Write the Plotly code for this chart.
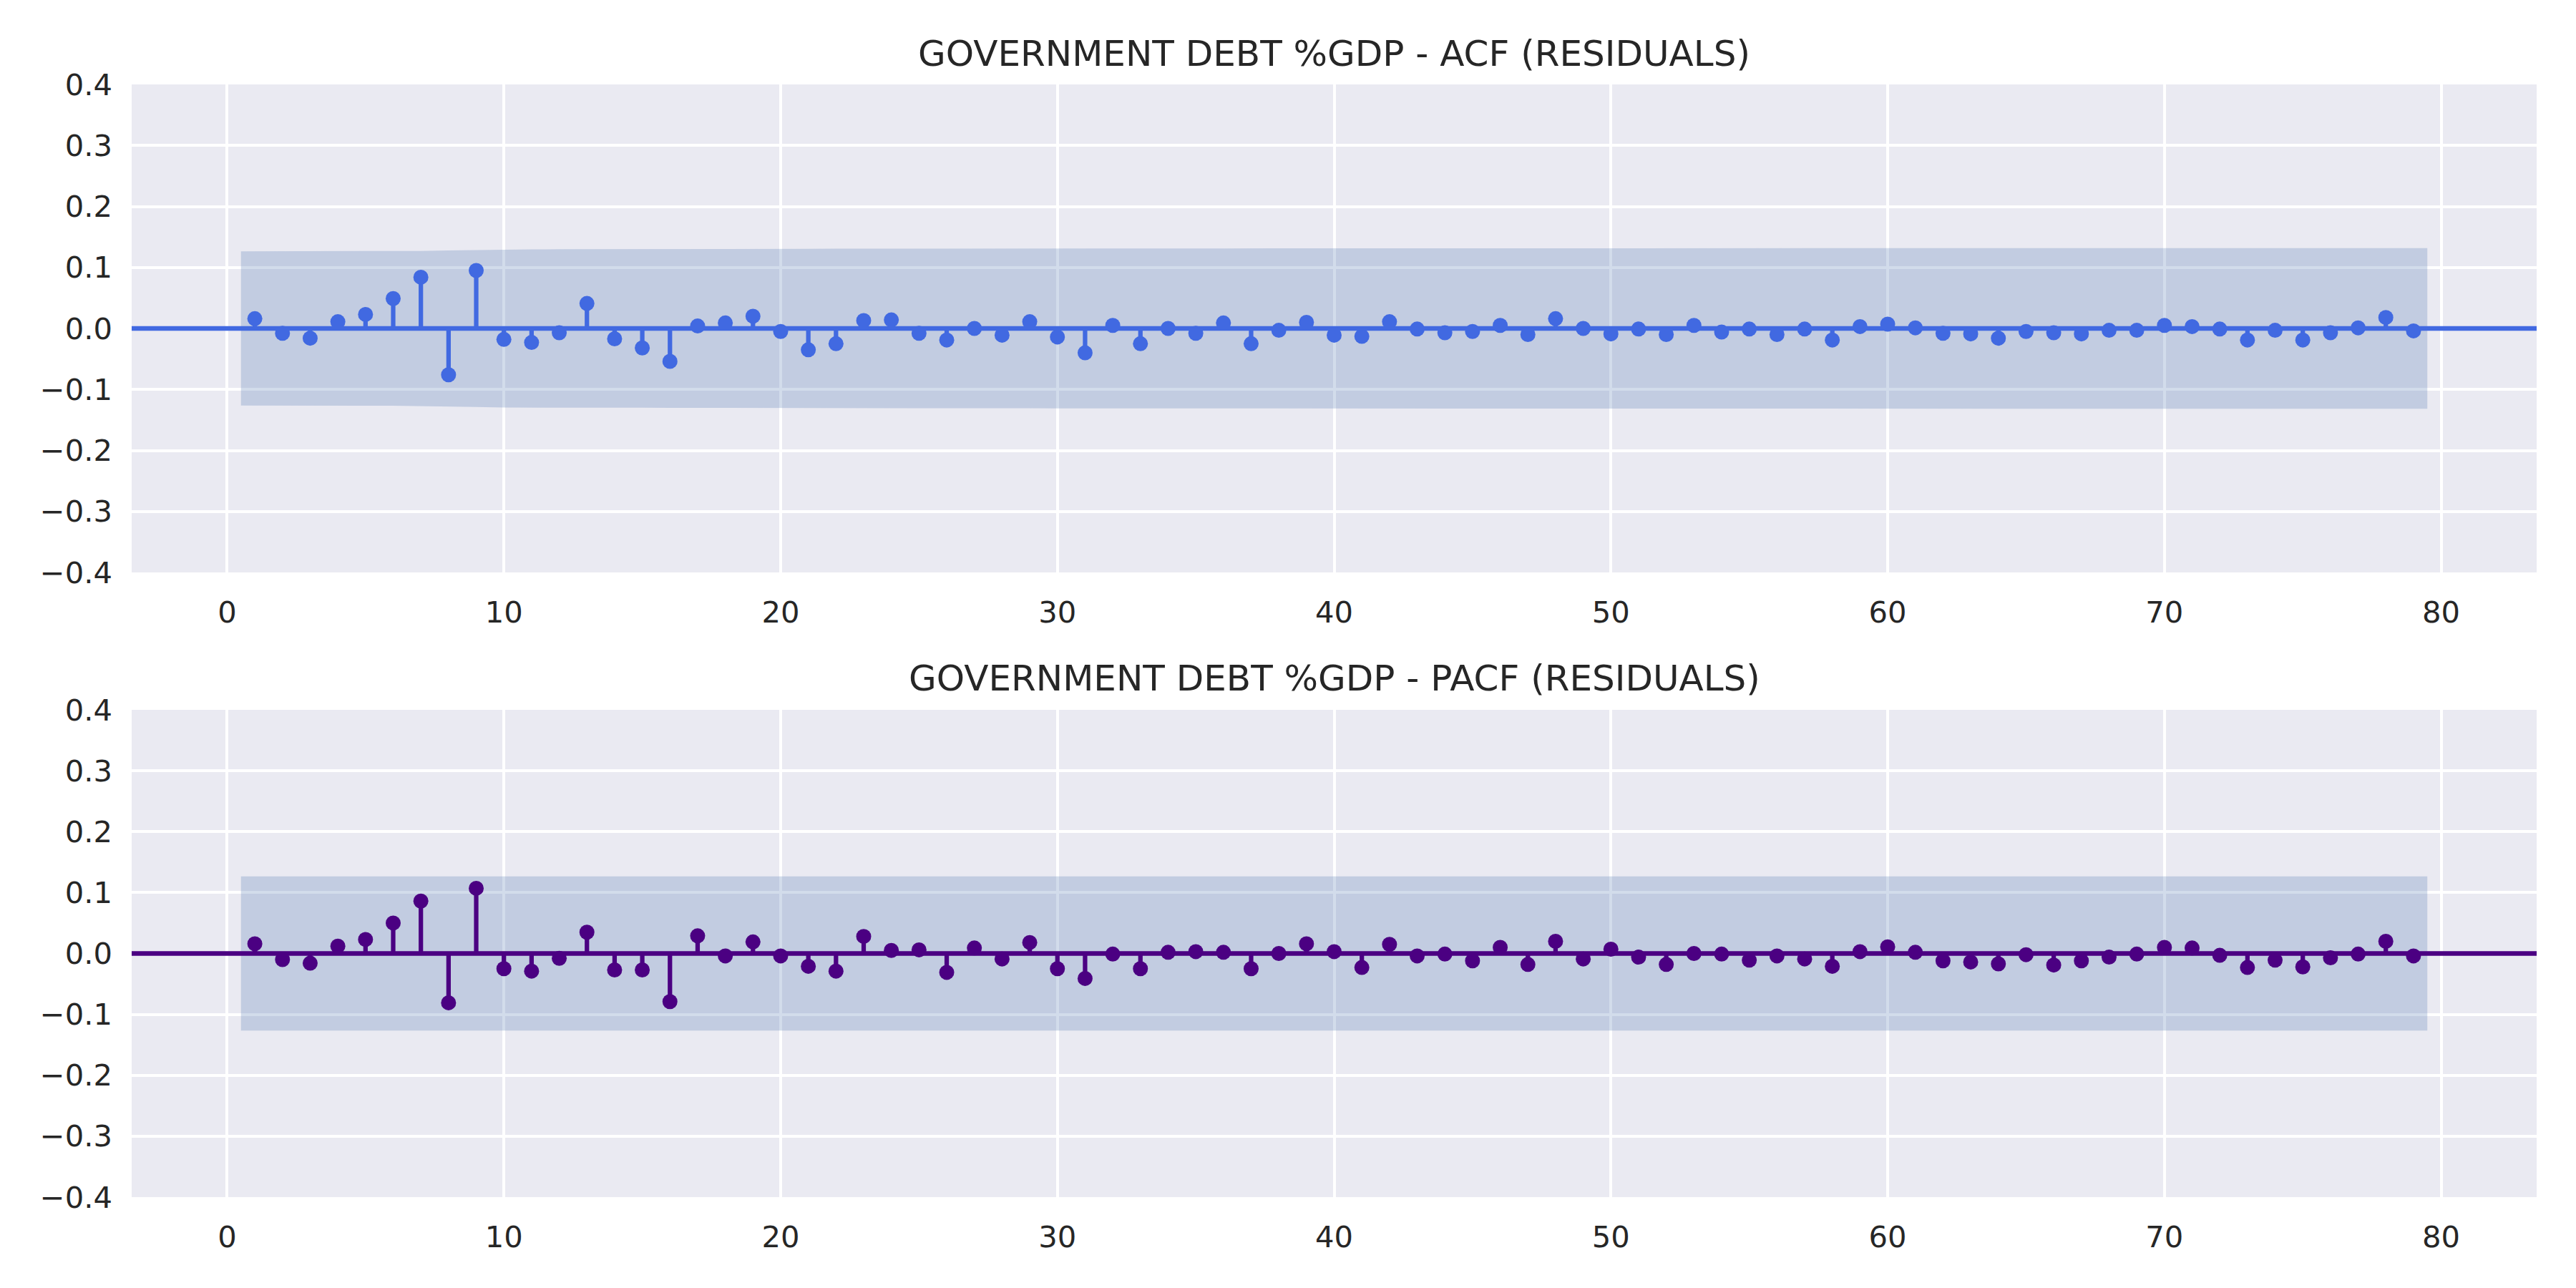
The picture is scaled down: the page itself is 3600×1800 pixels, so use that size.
import plotly.graph_objects as go

# ---------------- data ----------------
lags = list(range(1, 80))

acf_values = [
    0.016, -0.008, -0.016, 0.011, 0.023, 0.049, 0.084, -0.076, 0.095, -0.018,
    -0.023, -0.007, 0.041, -0.017, -0.032, -0.054, 0.004, 0.009, 0.020, -0.005,
    -0.035, -0.025, 0.013, 0.014, -0.008, -0.019, 0.000, -0.011, 0.011, -0.014,
    -0.040, 0.005, -0.025, 0.000, -0.008, 0.009, -0.025, -0.003, 0.010, -0.011,
    -0.013, 0.011, -0.001, -0.007, -0.005, 0.005, -0.010, 0.016, 0.000, -0.009,
    -0.001, -0.010, 0.005, -0.006, -0.001, -0.010, -0.001, -0.019, 0.003, 0.007,
    0.001, -0.008, -0.009, -0.016, -0.005, -0.007, -0.009, -0.003, -0.003, 0.005,
    0.003, -0.001, -0.019, -0.003, -0.019, -0.007, 0.001, 0.018, -0.004,
]

pacf_values = [
    0.016, -0.010, -0.016, 0.012, 0.023, 0.050, 0.086, -0.081, 0.107, -0.025,
    -0.029, -0.008, 0.035, -0.027, -0.027, -0.079, 0.029, -0.004, 0.019, -0.004,
    -0.021, -0.029, 0.028, 0.005, 0.006, -0.031, 0.009, -0.009, 0.018, -0.025,
    -0.041, -0.001, -0.025, 0.002, 0.003, 0.002, -0.025, 0.000, 0.016, 0.003,
    -0.023, 0.015, -0.004, -0.001, -0.012, 0.010, -0.018, 0.020, -0.009, 0.007,
    -0.006, -0.018, 0.000, -0.001, -0.011, -0.004, -0.009, -0.021, 0.003, 0.011,
    0.002, -0.012, -0.014, -0.017, -0.002, -0.019, -0.012, -0.006, -0.001, 0.010,
    0.009, -0.003, -0.023, -0.011, -0.022, -0.007, -0.001, 0.020, -0.004,
]

# half-width of the 95% confidence band (ACF: grows with lag)
acf_band = [
    0.1265, 0.1265, 0.1265, 0.1266, 0.1266, 0.1267, 0.1270, 0.1278, 0.1286, 0.1297,
    0.1297, 0.1298, 0.1298, 0.1300, 0.1300, 0.1302, 0.1305, 0.1305, 0.1305, 0.1306,
    0.1306, 0.1307, 0.1308, 0.1308, 0.1309, 0.1309, 0.1309, 0.1309, 0.1309, 0.1310,
    0.1310, 0.1312, 0.1312, 0.1312, 0.1312, 0.1312, 0.1313, 0.1313, 0.1313, 0.1313,
    0.1314, 0.1314, 0.1314, 0.1314, 0.1314, 0.1314, 0.1314, 0.1315, 0.1315, 0.1315,
    0.1315, 0.1315, 0.1315, 0.1315, 0.1315, 0.1315, 0.1315, 0.1316, 0.1316, 0.1316,
    0.1316, 0.1316, 0.1316, 0.1316, 0.1316, 0.1317, 0.1317, 0.1317, 0.1317, 0.1317,
    0.1317, 0.1317, 0.1317, 0.1317, 0.1317, 0.1318, 0.1318, 0.1318, 0.1318,
]
pacf_band_halfwidth = 0.1265

titles = ["GOVERNMENT DEBT %GDP - ACF (RESIDUALS)",
          "GOVERNMENT DEBT %GDP - PACF (RESIDUALS)"]
x_ticks = [0, 10, 20, 30, 40, 50, 60, 70, 80]
y_ticks = [-0.4, -0.3, -0.2, -0.1, 0.0, 0.1, 0.2, 0.3, 0.4]

# ---------------- style ----------------
W, H = 3600, 1800
OFF = 8  # page offset compensation
ML, MR, MT, MB = 184 - OFF, 55 + OFF, 118 - OFF, 127 + OFF
FONT = "DejaVu Sans"
TXT = "#262626"
BG = "#EAEAF2"
BAND = "rgba(76,114,176,0.25)"
ACF_COLOR = "#4169E1"
PACF_COLOR = "#4B0082"
TICK_SIZE = 41.7
TITLE_SIZE = 50
X_RANGE = [-3.45, 83.45]
Y_RANGE = [-0.4, 0.4]

fig = go.Figure()


def add_panel(values, upper, color, xa, ya):
    # band x: statsmodels extends first/last lag by half a step
    bx = list(lags)
    bx[0] -= 0.5
    bx[-1] += 0.5
    lower = [-u for u in upper]
    fig.add_trace(go.Scatter(
        x=bx + bx[::-1], y=upper + lower[::-1],
        fill="toself", fillcolor=BAND, mode="lines",
        line=dict(width=0, color="rgba(0,0,0,0)"),
        hoverinfo="skip", showlegend=False, xaxis=xa, yaxis=ya))
    sx, sy = [], []
    for lag, v in zip(lags, values):
        sx += [lag, lag, None]
        sy += [0, v, None]
    fig.add_trace(go.Scatter(
        x=sx, y=sy, mode="lines", line=dict(color=color, width=6.25),
        showlegend=False, xaxis=xa, yaxis=ya))
    fig.add_trace(go.Scatter(
        x=lags, y=values, mode="markers",
        marker=dict(color=color, size=21, line=dict(width=0)),
        showlegend=False, xaxis=xa, yaxis=ya))


add_panel(acf_values, acf_band, ACF_COLOR, "x", "y")
add_panel(pacf_values, [pacf_band_halfwidth for _ in lags], PACF_COLOR, "x2", "y2")

for xr, yr, color in (("x domain", "y", ACF_COLOR), ("x2 domain", "y2", PACF_COLOR)):
    fig.add_shape(type="line", xref=xr, yref=yr, x0=0, x1=1, y0=0, y1=0,
                  line=dict(color=color, width=6.5), layer="above")

axis_common = dict(
    showgrid=True, gridcolor="white", gridwidth=4.2, zeroline=False,
    showline=False, ticks="", tickfont=dict(family=FONT, size=TICK_SIZE, color=TXT),
)

plot_h = H - MT - MB
# pixel rows (page coordinates) of panel edges and title centres
upper_bottom_px, lower_top_px = 800, 992
bottom_px = H - MB + OFF
upper_bottom = (bottom_px - upper_bottom_px) / plot_h
lower_top = (bottom_px - lower_top_px) / plot_h

fig.update_layout(
    width=W, height=H,
    margin=dict(l=ML, r=MR, t=MT, b=MB, pad=0),
    paper_bgcolor="white", plot_bgcolor=BG,
    font=dict(family=FONT, color=TXT),
    xaxis=dict(domain=[0, 1], anchor="y", range=X_RANGE, tickvals=x_ticks,
               ticklabelstandoff=27, **axis_common),
    yaxis=dict(domain=[upper_bottom, 1], anchor="x", range=Y_RANGE, tickvals=y_ticks,
               tickformat=".1f", ticklabelstandoff=26, **axis_common),
    xaxis2=dict(domain=[0, 1], anchor="y2", range=X_RANGE, tickvals=x_ticks,
                ticklabelstandoff=27, **axis_common),
    yaxis2=dict(domain=[0, lower_top], anchor="x2", range=Y_RANGE, tickvals=y_ticks,
                tickformat=".1f", ticklabelstandoff=26, **axis_common),
    showlegend=False,
)

title_y = [(bottom_px - 75) / plot_h, (bottom_px - 948) / plot_h]
for t, ty in zip(titles, title_y):
    fig.add_annotation(text=t, x=0.5, y=ty, xref="paper", yref="paper",
                       xanchor="center", yanchor="middle", showarrow=False,
                       font=dict(family=FONT, size=TITLE_SIZE, color=TXT))

fig.write_html("out.html")
